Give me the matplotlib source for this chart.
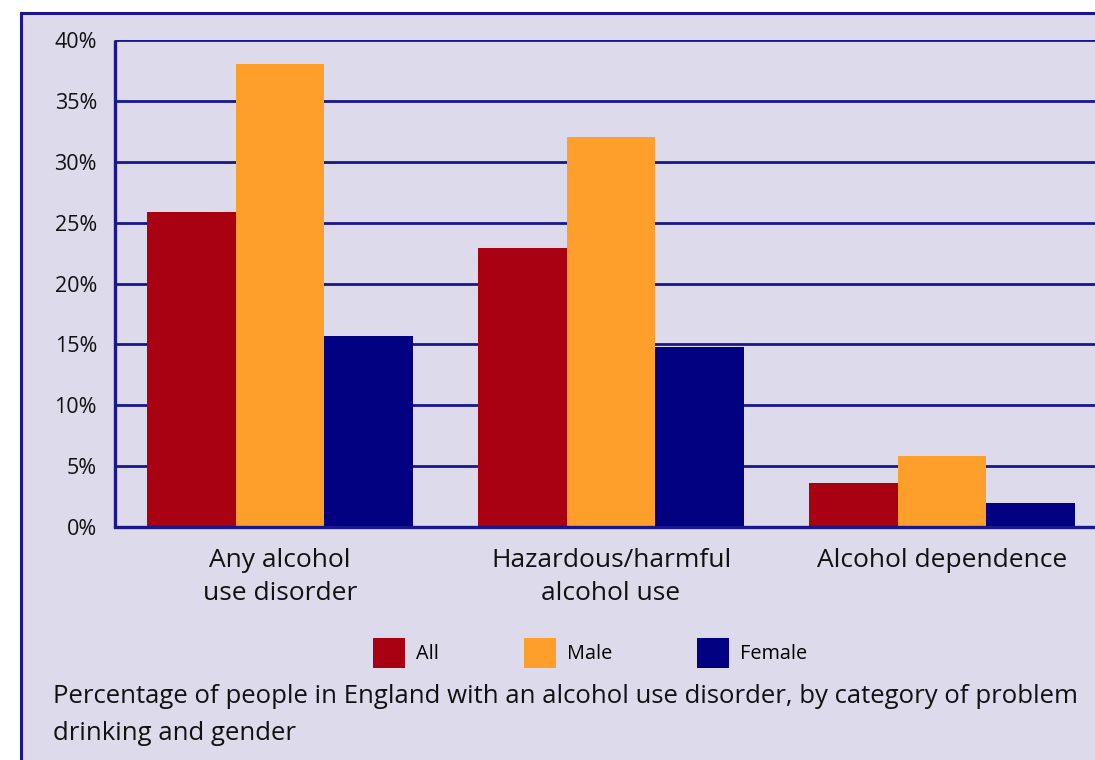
import matplotlib as mpl
import matplotlib.pyplot as plt
import numpy as np
from matplotlib.patches import Rectangle

mpl.rcParams['font.family'] = ['Open Sans', 'DejaVu Sans']

# data
categories = ['Any alcohol\nuse disorder', 'Hazardous/harmful\nalcohol use', 'Alcohol dependence']
series = ['All', 'Male', 'Female']
all_vals = [25.9, 22.9, 3.6]
male_vals = [38.0, 32.0, 5.8]
female_vals = [15.7, 14.8, 2.0]
yticks = [0, 5, 10, 15, 20, 25, 30, 35, 40]

colors = ['#a90012', '#ff9f2b', '#000080']
navy = '#1a168c'
lavender = '#dddaec'

fig = plt.figure(figsize=(10.95, 7.6), dpi=100, facecolor='white')

# framed panel behind the chart
frame = Rectangle((21 / 1095, -0.05), 1.1, (1 - 13 / 760) + 0.05,
                  transform=fig.transFigure, facecolor=lavender,
                  edgecolor=navy, linewidth=2.2, zorder=-1)
fig.patches.append(frame)

ax = fig.add_axes([115 / 1095, 1 - 527 / 760, 1 - 115 / 1095, (527 - 40) / 760])
ax.set_facecolor('none')

x = np.arange(len(categories))
w = 0.268
for i, (vals, name, c) in enumerate(zip([all_vals, male_vals, female_vals], series, colors)):
    ax.bar(x + (i - 1) * w, vals, width=w, color=c, label=name, zorder=3)

ax.set_xlim(-0.4985, 2.462)
ax.set_ylim(0, 40)
ax.set_yticks(yticks)
ax.set_yticklabels([f'{t}%' for t in yticks], fontsize=15.5, color='#111111')
ax.set_xticks(x)
ax.set_xticklabels(categories, fontsize=19, color='#111111', linespacing=1.45)
ax.tick_params(axis='y', length=0, pad=13)
ax.tick_params(axis='x', length=0, pad=15)

ax.grid(axis='y', color=navy, linewidth=2, zorder=1)
ax.set_axisbelow(True)
for side in ['top', 'right']:
    ax.spines[side].set_visible(False)
for side in ['left', 'bottom']:
    ax.spines[side].set_color(navy)
    ax.spines[side].set_linewidth(2.4)
    ax.spines[side].set_zorder(4)
ax.spines['left'].set_capstyle('butt')

fig.legend(loc='center', bbox_to_anchor=(590 / 1095, 1 - 653 / 760), ncol=3,
           frameon=False, fontsize=14.3, handlelength=1.6, handleheight=1.9,
           columnspacing=4.3, handletextpad=0.55)

fig.text(53 / 1095, 1 - 715 / 760,
         'Percentage of people in England with an alcohol use disorder, by category of problem\ndrinking and gender',
         fontsize=18.5, color='#111111', va='center', ha='left', linespacing=1.6)

fig.savefig('out.png', dpi=100, facecolor='white')
